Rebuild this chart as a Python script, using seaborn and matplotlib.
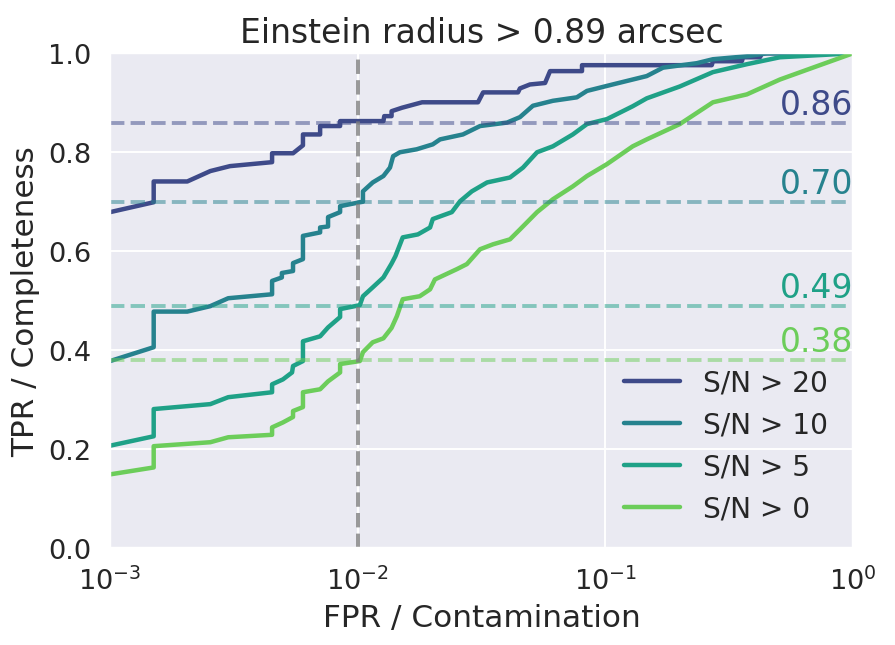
import matplotlib.pyplot as plt
import numpy as np
import pandas as pd
import seaborn as sns

# ROC curves (FPR on log axis, TPR linear)
fpr_sn20 = [0.001, 0.0015, 0.0015, 0.00205, 0.00254, 0.00305, 0.00451, 0.00451, 0.00548, 0.00601,
            0.00601, 0.00705, 0.00705, 0.00849, 0.00849, 0.0127, 0.0128, 0.0137, 0.0137, 0.0151,
            0.0182, 0.0306, 0.0321, 0.0444, 0.0452, 0.0496, 0.0571, 0.0598, 0.0805, 0.0805,
            0.269, 0.272, 0.356, 0.36, 0.421, 0.43, 1.0]
tpr_sn20 = [0.679, 0.699, 0.741, 0.741, 0.762, 0.772, 0.780, 0.798, 0.798, 0.814,
            0.836, 0.836, 0.853, 0.853, 0.863, 0.863, 0.873, 0.873, 0.883, 0.890,
            0.901, 0.901, 0.921, 0.921, 0.929, 0.937, 0.940, 0.964, 0.964, 0.976,
            0.976, 0.984, 0.984, 0.992, 0.992, 1.0, 1.0]

fpr_sn10 = [0.001, 0.0015, 0.0015, 0.00205, 0.00254, 0.003, 0.00451, 0.00451, 0.00494, 0.00494,
            0.00548, 0.00548, 0.00601, 0.00601, 0.00705, 0.00705, 0.00759, 0.00759, 0.00849, 0.00849,
            0.0102, 0.0105, 0.0105, 0.0115, 0.0127, 0.0135, 0.0139, 0.0148, 0.0173, 0.0201,
            0.0215, 0.0266, 0.0312, 0.0401, 0.0452, 0.051, 0.0614, 0.0767, 0.0843, 0.107,
            0.147, 0.171, 0.234, 0.272, 0.373, 0.45, 1.0]
tpr_sn10 = [0.378, 0.406, 0.478, 0.478, 0.489, 0.505, 0.513, 0.540, 0.547, 0.556,
            0.560, 0.576, 0.584, 0.631, 0.638, 0.648, 0.650, 0.669, 0.679, 0.691,
            0.699, 0.700, 0.721, 0.739, 0.752, 0.769, 0.792, 0.800, 0.806, 0.816,
            0.826, 0.836, 0.853, 0.860, 0.871, 0.894, 0.904, 0.911, 0.924, 0.937,
            0.954, 0.971, 0.980, 0.988, 0.994, 1.0, 1.0]

fpr_sn5 = [0.001, 0.0015, 0.0015, 0.00254, 0.003, 0.00451, 0.00451, 0.00499, 0.00543, 0.00548,
           0.00601, 0.00601, 0.00705, 0.00759, 0.00849, 0.00849, 0.0102, 0.0105, 0.0115, 0.0127,
           0.0137, 0.0142, 0.0152, 0.0175, 0.0196, 0.0201, 0.024, 0.0259, 0.0289, 0.0333,
           0.0412, 0.0465, 0.053, 0.0614, 0.0739, 0.0843, 0.1015, 0.129, 0.147, 0.2,
           0.272, 0.373, 0.507, 1.0]
tpr_sn5 = [0.207, 0.226, 0.281, 0.291, 0.305, 0.315, 0.331, 0.341, 0.355, 0.368,
           0.378, 0.418, 0.428, 0.446, 0.467, 0.483, 0.491, 0.509, 0.527, 0.547,
           0.575, 0.590, 0.628, 0.634, 0.648, 0.665, 0.679, 0.701, 0.721, 0.739,
           0.749, 0.769, 0.800, 0.812, 0.836, 0.857, 0.867, 0.893, 0.909, 0.933,
           0.962, 0.978, 0.992, 1.0]

fpr_sn0 = [0.001, 0.0015, 0.0015, 0.00254, 0.003, 0.00451, 0.00451, 0.00499, 0.00548, 0.00548,
           0.00601, 0.00601, 0.00705, 0.00759, 0.00849, 0.00849, 0.0102, 0.0105, 0.0115, 0.0127,
           0.0137, 0.0144, 0.0152, 0.0178, 0.0196, 0.0205, 0.0252, 0.0276, 0.0312, 0.0352,
           0.0412, 0.0452, 0.053, 0.0614, 0.0739, 0.0843, 0.1015, 0.129, 0.147, 0.2,
           0.272, 0.373, 0.507, 0.689, 1.0]
tpr_sn0 = [0.149, 0.163, 0.206, 0.214, 0.224, 0.229, 0.244, 0.254, 0.265, 0.277,
           0.285, 0.315, 0.321, 0.337, 0.355, 0.372, 0.378, 0.396, 0.416, 0.424,
           0.445, 0.469, 0.503, 0.509, 0.523, 0.543, 0.564, 0.574, 0.604, 0.614,
           0.624, 0.644, 0.679, 0.705, 0.731, 0.752, 0.776, 0.812, 0.826, 0.857,
           0.901, 0.917, 0.947, 0.971, 1.0]

labels = ["S/N > 20", "S/N > 10", "S/N > 5", "S/N > 0"]
tpr_at_1pct = [0.86, 0.70, 0.49, 0.38]
colors = ["#3e4a89", "#26828e", "#1fa187", "#6ccd5a"]

curves = [(fpr_sn20, tpr_sn20), (fpr_sn10, tpr_sn10), (fpr_sn5, tpr_sn5), (fpr_sn0, tpr_sn0)]

sns.set_theme(style="darkgrid")
fig = plt.figure(figsize=(6.393, 4.614), dpi=140)
ax = fig.add_axes([0.123, 0.150, 0.830, 0.766])

for (fpr, tpr), lab, col in zip(curves, labels, colors):
    df = pd.DataFrame({"fpr": fpr, "tpr": tpr})
    sns.lineplot(data=df, x="fpr", y="tpr", estimator=None, sort=False,
                 color=col, lw=2.3, label=lab, ax=ax)

for val, col in zip(tpr_at_1pct, colors):
    ax.axhline(val, color=col, ls="--", lw=2, alpha=0.5)
    ax.text(1.0, val + 0.004, f"{val:.2f}", color=col, fontsize=17,
            ha="right", va="bottom")

ax.axvline(0.01, color="gray", ls="--", lw=2, alpha=0.8)

ax.set_xscale("log")
ax.set_xlim(1e-3, 1)
ax.set_ylim(0, 1)
ax.set_xlabel("FPR / Contamination", fontsize=16)
ax.set_ylabel("TPR / Completeness", fontsize=16)
ax.set_title("Einstein radius > 0.89 arcsec", fontsize=17)
ax.tick_params(labelsize=14)
ax.legend(loc="lower right", fontsize=14.4, frameon=False)

fig.savefig("out.png", dpi=140)
